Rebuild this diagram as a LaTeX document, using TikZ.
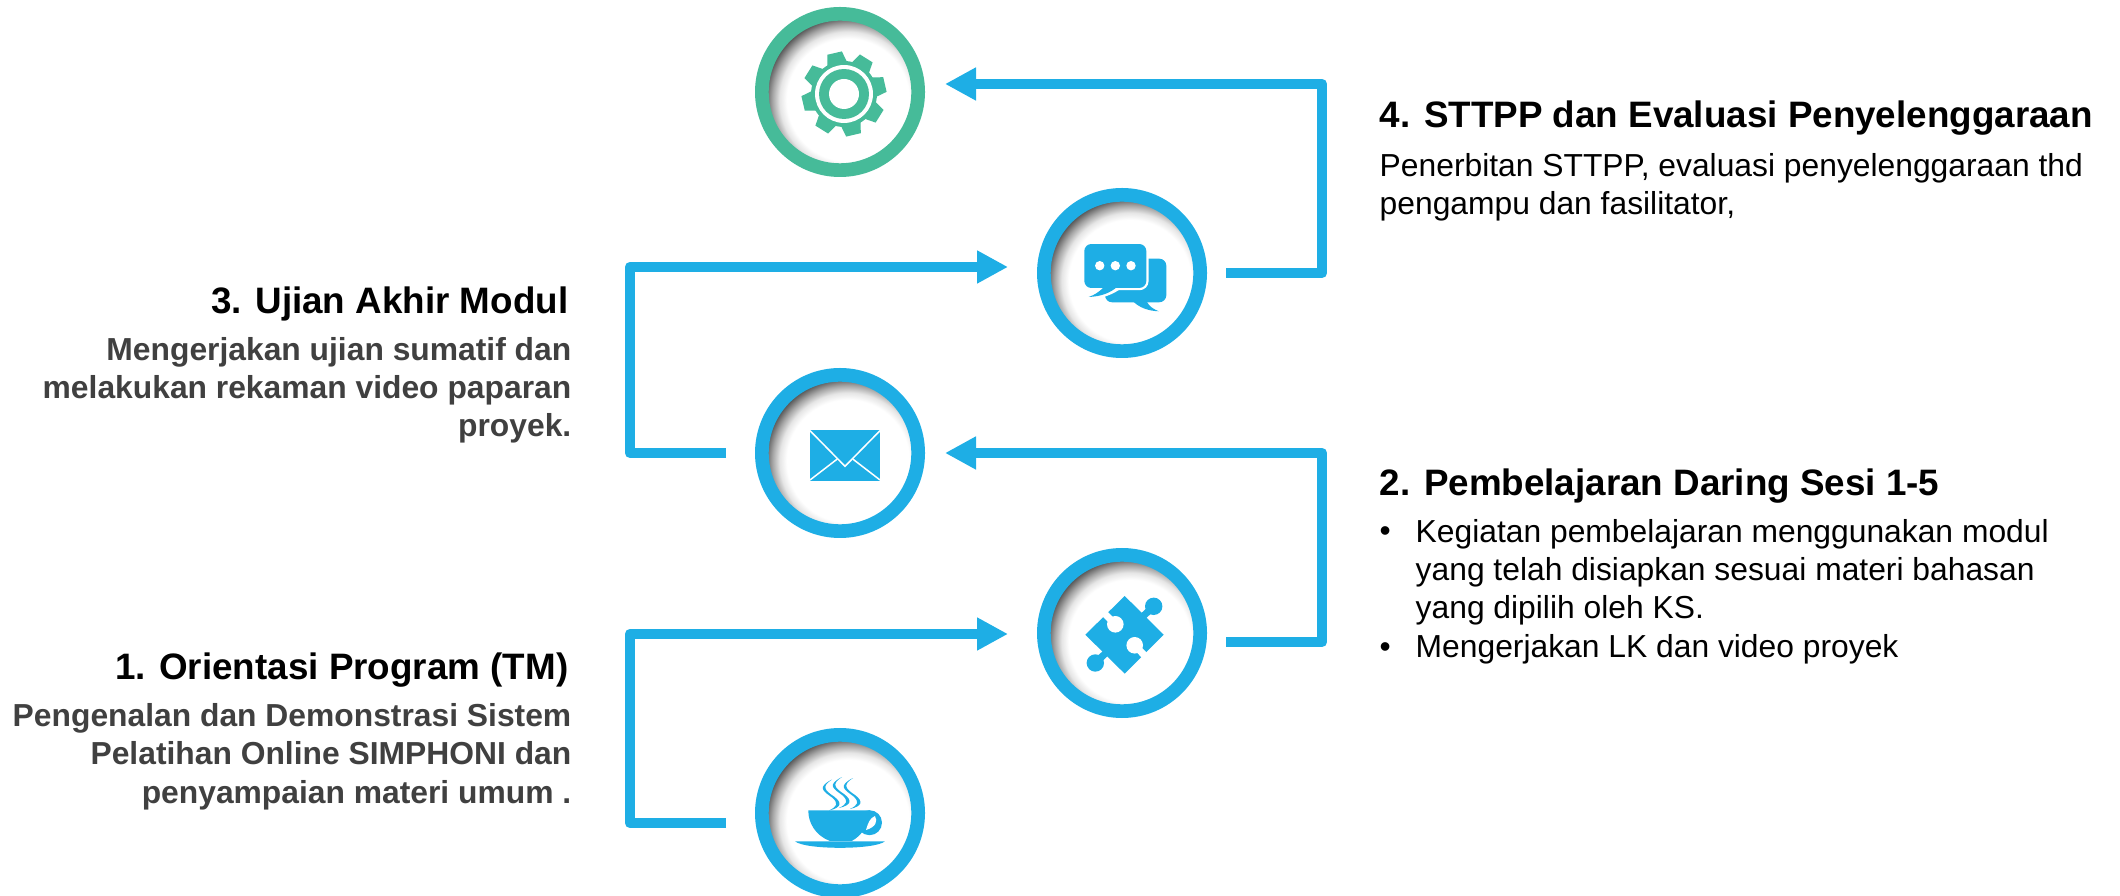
\documentclass[tikz,border=0pt]{standalone}
\usepackage{fontspec}
\setmainfont{Liberation Sans}
\usetikzlibrary{positioning, calc, arrows.meta}
\definecolor{ringblue}{HTML}{1EAEE5}
\definecolor{ringgreen}{HTML}{46BB99}
\definecolor{bodygray}{HTML}{404040}
\pgfdeclareradialshading{hole}{\pgfpoint{0bp}{0bp}}{color(0bp)=(white); color(17bp)=(white); color(19bp)=(black!10); color(21bp)=(black!35); color(23bp)=(black!65); color(50bp)=(black!65)}
\tikzset{ring/.style={circle, draw=#1, line width=0.137cm, minimum size=1.563cm, inner sep=0pt,
  path picture={\shade[shading=hole] ([shift={(0.08,-0.08)}]path picture bounding box.center) circle (0.9);}}}
\tikzset{flow/.style={draw=ringblue, line width=0.105cm, line join=round, -{Triangle[length=0.31cm, width=0.31cm]}}}
\tikzset{heading/.style={inner sep=0pt, font=\fontsize{10.47pt}{12pt}\selectfont\bfseries}}
\tikzset{detailr/.style={inner sep=0pt, align=left, font=\fontsize{9.05pt}{10.95pt}\selectfont}}
\tikzset{detaill/.style={inner sep=0pt, align=right, text=bodygray, font=\fontsize{9.05pt}{10.9pt}\selectfont\bfseries}}
\tikzset{icon/.style={x=0.01cm, y=-0.01cm}}
\tikzset{gearicon/.pic={
  \begin{scope}[icon, shift={(4,2)}, fill=ringgreen]
    \fill (0,0) circle (33);
    \foreach \a in {77,122,167,212,257,302,347,32}
      \fill[rotate=-\a] (31,-10) -- (42,-7.5) -- (42,7.5) -- (31,10) -- cycle;
    \fill[white] (0,0) circle (29);
    \fill[ringgreen] (0,0) circle (25);
    \fill[white] (0,0) circle (15);
  \end{scope}}}
\tikzset{chaticon/.pic={
  \begin{scope}[icon]
    \fill[ringblue, rounded corners=0.07cm] (-17,-14.3) rectangle (44.3,29.3);
    \fill[ringblue] (11.7,29) .. controls (18,35) and (27,38) .. (36.7,38.3) .. controls (31,36) and (27,33) .. (25,29) -- cycle;
    \draw[white, line width=0.045cm, rounded corners=0.07cm] (-37.7,-29) rectangle (24.3,15);
    \draw[white, line width=0.045cm, fill=white] (-18,15) .. controls (-24,20) and (-28,22) .. (-33.3,24) .. controls (-21,23.5) and (-12,20) .. (-5,15.5) -- cycle;
    \fill[ringblue, rounded corners=0.07cm] (-37.7,-29) rectangle (24.3,15);
    \fill[ringblue] (-18,14) .. controls (-24,20) and (-28,22) .. (-33.3,24) .. controls (-21,23.5) and (-12,20) .. (-5,14) -- cycle;
    \foreach \x in {-22.3,-6.7,9}
      \fill[white] (\x,-7.3) circle (4.7);
  \end{scope}}}
\tikzset{mailicon/.pic={
  \begin{scope}[icon]
    \fill[ringblue] (-30,-23.3) rectangle (40,27.7);
    \draw[white, line width=0.015cm] (-30,-22.3) -- (5,13.3) -- (40,-22.3);
    \draw[white, line width=0.015cm] (-30,27) -- (-2.7,6) (40,27) -- (12.7,6);
  \end{scope}}}
\tikzset{puzzleicon/.pic={
  \begin{scope}[icon]
    \fill[ringblue] (2.7,-37) -- (41.7,1.7) -- (2.7,40.7) -- (-36.7,1.7) -- cycle;
    \fill[ringblue] (31.7,-26.7) circle (8.7);
    \fill[ringblue] (-26.7,30) circle (8.7);
    \draw[ringblue, line width=0.07cm] (16,-12) -- (31.7,-26.7) (-12,16) -- (-26.7,30);
    \fill[white] (-6.7,-8.7) circle (8.3);
    \fill[white] (12.7,12.3) circle (8.3);
    \draw[white, line width=0.07cm] (-6.7,-8.7) -- (-20,-22) (12.7,12.3) -- (25,25);
  \end{scope}}}
\tikzset{cupicon/.pic={
  \begin{scope}[icon]
    \fill[ringblue] (29.5,9.7) circle (12.5);
    \fill[white] (26,17) .. controls (28,10) and (30,5) .. (35,3) .. controls (38,8) and (36,14) .. cycle;
    \fill[ringblue] (-31.7,-2.7) -- (30,-2.7) .. controls (28,14) and (21,23) .. (11.7,28) -- (-10,28) .. controls (-24,23) and (-32,10) .. cycle;
    \fill[ringblue] (-45,28.3) -- (45,28.3) .. controls (35,37) and (-35,37) .. cycle;
    \foreach \x/\y in {-10/2.5, 0/0, 11/1} {
      \fill[ringblue, shift={(\x,\y)}] (2,-36) .. controls (-14,-28) and (-6,-24) .. (2,-18) .. controls (9,-12) and (7,-9) .. (-1,-5)
        .. controls (12,-8) and (12,-13) .. (4,-19) .. controls (-5,-25) and (-9,-29) .. cycle;
    }
  \end{scope}}}
\begin{document}
\begin{tikzpicture}
  \useasboundingbox (0,0) rectangle (21.2,-8.96);

  \node[ring=ringgreen] (gear) at (8.40,-0.92) {};
  \node[ring=ringblue] (chat) at (11.22,-2.73) {};
  \node[ring=ringblue] (mail) at (8.40,-4.53) {};
  \node[ring=ringblue] (puzzle) at (11.22,-6.33) {};
  \node[ring=ringblue] (cup) at (8.40,-8.13) {};

  \pic at (gear.center) {gearicon};
  \pic at (chat.center) {chaticon};
  \pic at (mail.center) {mailicon};
  \pic at (puzzle.center) {puzzleicon};
  \pic at (cup.center) {cupicon};

  \draw[flow, shorten <=0.29cm, shorten >=0.29cm] ([yshift=-0.10cm]cup.west) -- ++(-1.25,0) |- ([yshift=-0.01cm]puzzle.west);
  \draw[flow, shorten <=0.19cm, shorten >=0.20cm] ([yshift=-0.09cm]puzzle.east) -- ++(1.15,0) |- (mail.east);
  \draw[flow, shorten <=0.29cm, shorten >=0.29cm] (mail.west) -- ++(-1.25,0) |- ([yshift=0.06cm]chat.west);
  \draw[flow, shorten <=0.19cm, shorten >=0.20cm] (chat.east) -- ++(1.15,0) |- ([yshift=0.08cm]gear.east);

  \node[heading, anchor=base east] (t3) at (5.69,-3.14) {3. Ujian Akhir Modul};
  \node[detaill, anchor=base east] (d3) at (5.72,-4.37) {Mengerjakan ujian sumatif dan\\melakukan rekaman video paparan\\proyek.};
  \node[heading, anchor=base east] (t1) at (5.69,-6.80) {1. Orientasi Program (TM)};
  \node[detaill, anchor=base east] (d1) at (5.72,-8.03) {Pengenalan dan Demonstrasi Sistem\\Pelatihan Online SIMPHONI dan\\penyampaian materi umum .};

  \node[heading, anchor=base west] (t4) at (13.79,-1.28) {4. STTPP dan Evaluasi Penyelenggaraan};
  \node[detailr, anchor=base west] (d4) at (13.79,-2.15) {Penerbitan STTPP, evaluasi penyelenggaraan thd\\pengampu dan fasilitator,};
  \node[heading, anchor=base west] (t2) at (13.79,-4.96) {2. Pembelajaran Daring Sesi 1-5};
  \node[detailr, anchor=base west] (b1) at (13.79,-5.42) {•};
  \node[detailr, anchor=base west] (d2) at (14.15,-6.19) {Kegiatan pembelajaran menggunakan modul\\yang telah disiapkan sesuai materi bahasan\\yang dipilih oleh KS.};
  \node[detailr, anchor=base west] (b2) at (13.79,-6.58) {•};
  \node[detailr, anchor=base west] (d5) at (14.15,-6.58) {Mengerjakan LK dan video proyek};
\end{tikzpicture}
\end{document}
